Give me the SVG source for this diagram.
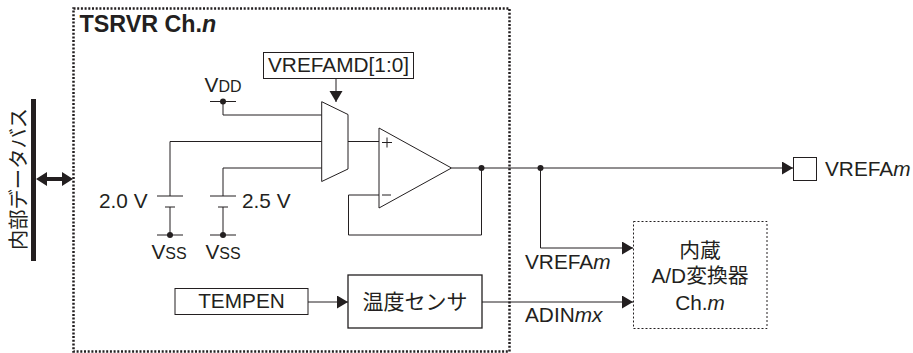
<svg xmlns="http://www.w3.org/2000/svg" width="913" height="353" viewBox="0 0 913 353">
<style>
text{font-family:"Liberation Sans","Noto Sans CJK JP",sans-serif;font-size:20.8px;fill:#231f20}
.cjk{font-family:"Noto Sans CJK JP","Liberation Sans",sans-serif;font-weight:400}
.s{font-size:16px}
.box{fill:#fff;stroke:#231f20;stroke-width:1}
.w{fill:none;stroke:#231f20;stroke-width:1}
.dot{fill:#231f20;stroke:none}
</style>
<defs>
<marker id="a" markerUnits="userSpaceOnUse" markerWidth="12" markerHeight="14" refX="11" refY="6.5" orient="auto"><path d="M0 0L11 6.500L0 13Z" fill="#231f20"/></marker>
</defs>
<g id="tsrvr">
<rect x="73.500" y="8.500" width="436" height="343" fill="none" stroke="#231f20" stroke-width="2.500" stroke-dasharray="2 1.700"/>
<text x="79.500" y="32" font-weight="700" style="font-size:23.300px">TSRVR Ch.<tspan font-style="italic">n</tspan></text>
</g>
<g id="connectors">
<path class="w" d="M223 101.500V115H322M170 196V141.500H322M223 196V168H322M170 207V235M223 207V235M348 141.500H379M481.500 168V235H348.500V195H379"/>
<path class="w" d="M336 78V102" marker-end="url(#a)"/>
<path class="w" d="M451.500 168H793" marker-end="url(#a)"/>
<path class="w" d="M540.500 168V248H633" marker-end="url(#a)"/>
<path class="w" d="M308 302H348" marker-end="url(#a)"/>
<path class="w" d="M482 302H633" marker-end="url(#a)"/>
<path d="M36 179L47 172V177H62V172L73 179L62 186V181H47V186Z" fill="#231f20"/>
<path class="w" d="M210 101.500H236M157 196H183M165 207H175M210 196H236M218 207H228M157 235H183M210 235H236"/>
<circle class="dot" cx="223" cy="101.500" r="3"/>
<circle class="dot" cx="170" cy="235" r="3"/>
<circle class="dot" cx="223" cy="235" r="3"/>
<circle class="dot" cx="481.500" cy="168" r="3"/>
<circle class="dot" cx="540.500" cy="168" r="3"/>
</g>
<g id="bus">
<rect x="31" y="99" width="5" height="162" fill="#231f20"/>
<text class="cjk" transform="translate(26 250) rotate(-90)" style="font-size:20.300px">内部データバス</text>
</g>
<g id="vrefamd"><rect class="box" x="263.500" y="52.500" width="150" height="26"/><text x="338.500" y="72" text-anchor="middle">VREFAMD[1:0]</text></g>
<g id="vdd"><text x="223" y="91.500" text-anchor="middle">V<tspan class="s">DD</tspan></text></g>
<g id="v20"><text x="99" y="208">2.0 V</text></g>
<g id="v25"><text x="242" y="208">2.5 V</text></g>
<g id="vss1"><text x="169" y="259" text-anchor="middle">V<tspan class="s">SS</tspan></text></g>
<g id="vss2"><text x="223" y="259" text-anchor="middle">V<tspan class="s">SS</tspan></text></g>
<g id="mux"><path class="box" d="M321.700 101.700L348 114.500V169L321.700 181.500Z"/></g>
<g id="opamp"><path class="box" d="M379 128V208L451.500 168Z"/>
<path class="w" d="M382 142.500H392M387 137.500V147.500M382 195H391"/></g>
<g id="tempen"><rect class="box" x="175" y="288.500" width="133" height="26"/><text x="241.500" y="308" text-anchor="middle">TEMPEN</text></g>
<g id="sensor"><rect class="box" style="stroke-width:1.300" x="348" y="275" width="134" height="53"/><text class="cjk" x="415" y="309" text-anchor="middle" style="font-size:21px">温度センサ</text></g>
<g id="adc"><rect x="633.500" y="221.500" width="133.500" height="107" fill="#fff" stroke="#231f20" stroke-dasharray="2 2"/>
<text x="700" y="258" text-anchor="middle">内蔵</text>
<text x="700" y="283" text-anchor="middle">A/D変換器</text>
<text x="700" y="310" text-anchor="middle">Ch.<tspan font-style="italic">m</tspan></text></g>
<g id="pin"><rect class="box" x="793.500" y="157.500" width="23" height="23"/><text x="825" y="176">VREFA<tspan font-style="italic">m</tspan></text></g>
<text x="525" y="269">VREFA<tspan font-style="italic">m</tspan></text>
<text x="525" y="322">ADIN<tspan font-style="italic">mx</tspan></text>
</svg>
